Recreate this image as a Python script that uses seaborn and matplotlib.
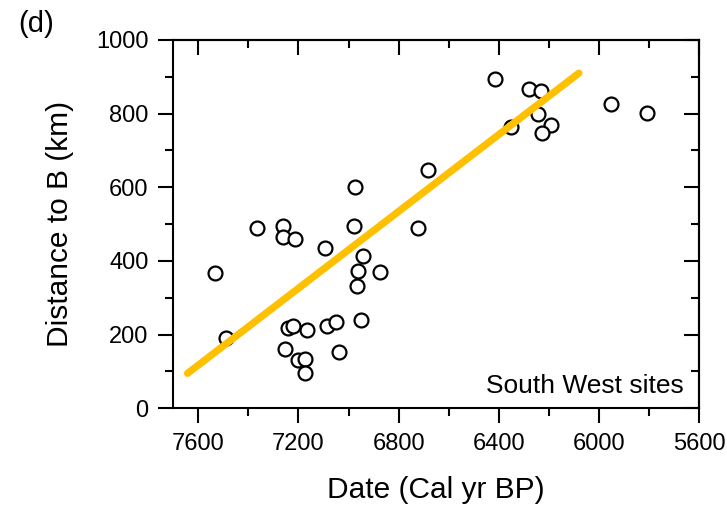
import matplotlib
matplotlib.use("Agg")
import matplotlib.pyplot as plt
import seaborn as sns
import pandas as pd
from matplotlib.ticker import MultipleLocator

# Site data (South West sites)
dates = [6976, 7365, 7261, 7261, 7212, 7095, 6979, 6722, 7533, 6944,
         6961, 6875, 6965, 6952, 7243, 7221, 7164, 7088, 7051, 7489,
         7253, 7201, 7172, 7172, 7039, 6415, 6279, 6231, 6243, 6352,
         6192, 6227, 5951, 5808, 6683]
distance = [602, 489, 496, 465, 459, 435, 495, 489, 368, 414,
            373, 369, 331, 239, 219, 223, 213, 223, 235, 191,
            161, 130, 133, 95, 154, 893, 867, 862, 799, 764,
            768, 748, 825, 801, 647]

# regression line end points
fit_dates = [7643, 6080]
fit_distance = [95, 910]

x_ticks = [7600, 7200, 6800, 6400, 6000, 5600]
y_ticks = [0, 200, 400, 600, 800, 1000]

df = pd.DataFrame({"Date": dates, "Distance": distance})
fit = pd.DataFrame({"Date": fit_dates, "Distance": fit_distance})

sns.set_style("ticks")
plt.rcParams["font.family"] = ["Liberation Sans", "DejaVu Sans"]
plt.rcParams.update({"text.color": "black", "axes.labelcolor": "black",
                     "xtick.color": "black", "ytick.color": "black",
                     "axes.edgecolor": "black"})

fig = plt.figure(figsize=(7.27, 5.12), dpi=100)
ax = fig.add_axes([0.2384, 0.2025, 0.7231, 0.7194])

sns.scatterplot(data=df, x="Date", y="Distance", ax=ax, s=100,
                facecolor="white", edgecolor="black", linewidth=1.6, zorder=2)
sns.lineplot(data=fit, x="Date", y="Distance", ax=ax, color="#FFC000",
             linewidth=5.2, zorder=3)

ax.set_xlim(7700, 5600)
ax.set_ylim(0, 1000)
ax.set_xticks(x_ticks)
ax.set_yticks(y_ticks)
ax.xaxis.set_minor_locator(MultipleLocator(200))
ax.yaxis.set_minor_locator(MultipleLocator(100))

for s in ax.spines.values():
    s.set_linewidth(1.5)
    s.set_visible(True)

ax.tick_params(which="major", direction="out", length=10.8, width=1.5,
               labelsize=17, pad=7)
ax.tick_params(which="minor", direction="out", length=5.8, width=1.5)

# inward ticks on the top and right edges
top = ax.secondary_xaxis("top")
top.set_xticks(x_ticks)
top.xaxis.set_minor_locator(MultipleLocator(200))
top.tick_params(which="major", direction="in", length=10.8, width=1.5, labeltop=False)
top.tick_params(which="minor", direction="in", length=5.8, width=1.5)
top.spines["top"].set_linewidth(1.5)

right = ax.secondary_yaxis("right")
right.set_yticks(y_ticks)
right.yaxis.set_minor_locator(MultipleLocator(100))
right.tick_params(which="major", direction="in", length=10.8, width=1.5, labelright=False)
right.tick_params(which="minor", direction="in", length=5.8, width=1.5)
right.spines["right"].set_linewidth(1.5)

ax.set_xlabel("Date (Cal yr BP)", fontsize=21.5)
ax.set_ylabel("Distance to B (km)", fontsize=21.5)
ax.xaxis.set_label_coords(0.5, -0.185)
ax.yaxis.set_label_coords(-0.189, 0.5)

ax.text(0.9715, 0.0407, "South West sites", transform=ax.transAxes,
        ha="right", va="baseline", fontsize=19)
fig.text(0.0248, 0.953, "(d)", ha="left", va="center", fontsize=21)

fig.savefig("out.png", dpi=100)
